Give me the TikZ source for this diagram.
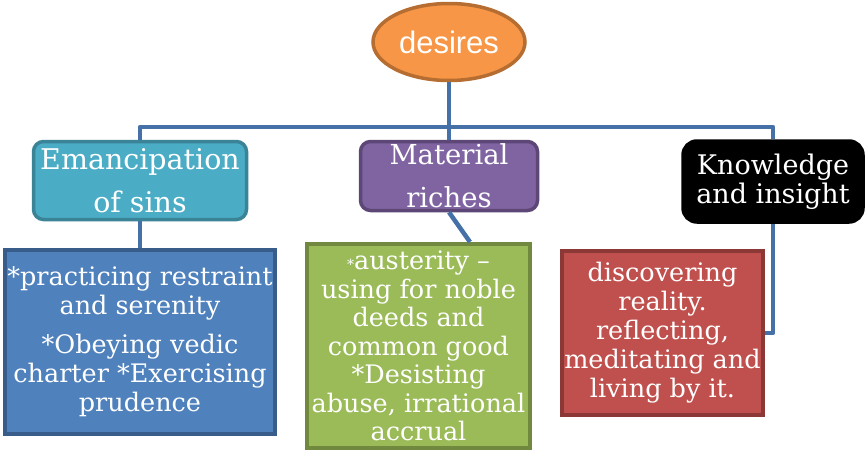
\documentclass[tikz,border=0pt]{standalone}
\usepackage{fontspec}
\setmainfont{DejaVu Serif}
\newfontfamily\headfont{Liberation Sans}
\usetikzlibrary{shapes.geometric}

\definecolor{linkblue}{HTML}{4570A8}
\definecolor{orangefill}{HTML}{F79646}
\definecolor{orangeline}{HTML}{B66D31}
\definecolor{tealfill}{HTML}{4BACC6}
\definecolor{tealline}{HTML}{3B8396}
\definecolor{purplefill}{HTML}{8064A2}
\definecolor{purpleline}{HTML}{5C4776}
\definecolor{bluefill}{HTML}{4F81BD}
\definecolor{blueline}{HTML}{385D8A}
\definecolor{greenfill}{HTML}{9BBB59}
\definecolor{greenline}{HTML}{71893F}
\definecolor{redfill}{HTML}{C0504D}
\definecolor{redline}{HTML}{8C3836}

\begin{document}
\begin{tikzpicture}[x=1pt,y=-1pt,
	link/.style={draw=linkblue,line width=4.5pt,line join=round},
	topic/.style={rounded corners=10pt,line width=3.5pt,text=white,align=center,inner sep=0pt,font=\fontsize{27.5}{43}\selectfont},
	detail/.style={line width=4pt,text=white,align=center,inner sep=0pt,font=\fontsize{25.5}{29}\selectfont}]
	\useasboundingbox (0,0) rectangle (866,458);
	% root
	\node[ellipse,fill=orangefill,draw=orangeline,line width=3.5pt,minimum width=152,minimum height=77,inner sep=0pt,text=white,font=\headfont\fontsize{31}{31}\selectfont] (desires) at (449,42) {desires};
	% three branches
	\node[topic,fill=tealfill,draw=tealline,minimum width=213,minimum height=78,font=\fontsize{28.5}{43}\selectfont] (sins) at (140,180.5) {Emancipation\\of sins};
	\node[topic,fill=purplefill,draw=purpleline,minimum width=177,minimum height=69] (riches) at (449,176) {Material\\riches};
	\node[topic,fill=black,draw=black,rounded corners=14pt,minimum width=180,minimum height=81,font=\fontsize{27}{29}\selectfont] (insight) at (773,181.5) {Knowledge\\and insight};
	% details
	\node[detail,fill=bluefill,draw=blueline,minimum width=270,minimum height=184] (restraint) at (140,342) {*practicing restraint\\and serenity\\[10pt]*Obeying vedic\\charter *Exercising\\prudence};
	\node[detail,fill=greenfill,draw=greenline,minimum width=223,minimum height=204,font=\fontsize{25.5}{28.5}\selectfont] (austerity) at (418.5,346) {{\fontsize{14}{14}\selectfont*}austerity --\\using for noble\\deeds and\\common good\\*Desisting\\abuse, irrational\\accrual};
	\node[detail,fill=redfill,draw=redline,minimum width=201,minimum height=164] (reality) at (662.5,333) {discovering\\reality.\\reflecting,\\meditating and\\living by it.};
	% connectors
	\coordinate (hub) at (449,127);
	\coordinate (lcorner) at (140,127);
	\coordinate (rcorner) at (773,127);
	\coordinate (gtop) at (470,242);
	\draw[link] (desires.south) -- (hub);
	\draw[link] (sins.north) -- (lcorner) -- (rcorner) -- (insight.north);
	\draw[link] (hub) -- (riches.north);
	\draw[link] (sins.south) -- (restraint.north);
	\draw[link] (riches.south) -- (gtop);
	\draw[link] (insight.south) |- (reality.east);
\end{tikzpicture}
\end{document}
